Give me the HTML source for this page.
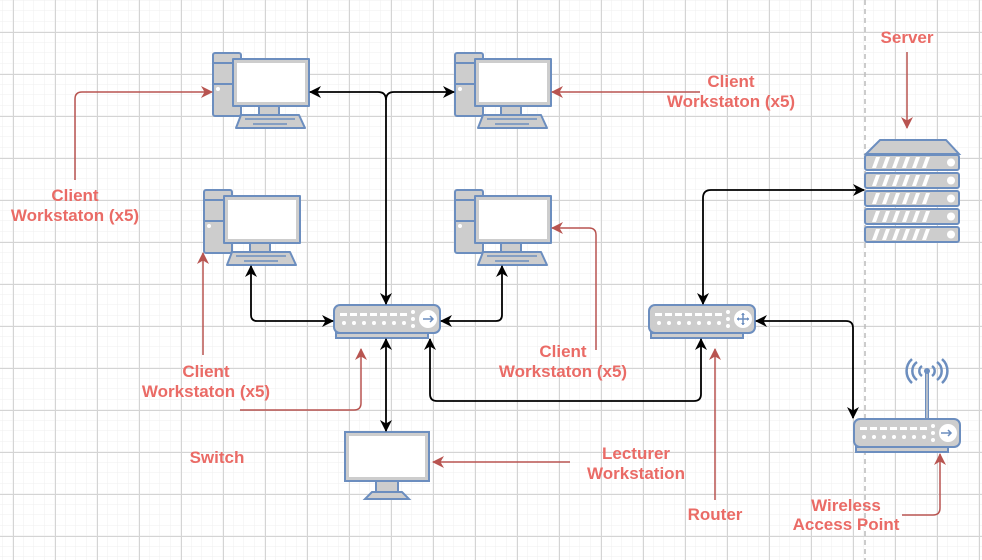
<!DOCTYPE html>
<html><head><meta charset="utf-8"><style>
html,body{margin:0;padding:0;background:#fff;}
svg{display:block;}
text{font-family:"Liberation Sans",sans-serif;font-weight:bold;font-size:17px;fill:#ea6b66;text-anchor:middle;}
</style></head><body>
<svg width="982" height="560" viewBox="0 0 982 560" xmlns="http://www.w3.org/2000/svg">
<defs>
<pattern id="minor" x="2.5" y="0.5" width="10.5" height="10.5" patternUnits="userSpaceOnUse">
<path d="M10.5 0V10.5M0 10.5H10.5" stroke="#efefef" stroke-width="1" fill="none"/>
</pattern>
<pattern id="major" x="13" y="32" width="42" height="42" patternUnits="userSpaceOnUse">
<path d="M0.5 0V42M0 0.5H42" stroke="#d4d4d4" stroke-width="1" fill="none"/>
</pattern>
<marker id="ab" markerWidth="12" markerHeight="12" refX="11" refY="6" orient="auto-start-reverse" markerUnits="userSpaceOnUse">
<path d="M0,0 L12,6 L0,12 L3.5,6 Z" fill="#000"/>
</marker>
<marker id="ar" markerWidth="12" markerHeight="12" refX="11" refY="6" orient="auto-start-reverse" markerUnits="userSpaceOnUse">
<path d="M0,0 L12,6 L0,12 L3.5,6 Z" fill="#b85450"/>
</marker>
<g id="pc" stroke="#6c8ebf" stroke-width="2" stroke-linejoin="round">
<rect x="0" y="0" width="28" height="63" rx="2" fill="#cdcdcd"/>
<line x1="0" y1="10" x2="28" y2="10"/><line x1="0" y1="31" x2="28" y2="31"/>
<circle cx="5" cy="36" r="2" fill="#fff" stroke="none"/>
<rect x="46" y="52" width="20" height="10" fill="#cdcdcd"/>
<path d="M28 62 L86 62 L92 75 L23 75 Z" fill="#cdcdcd"/>
<path d="M32 66h50M40 71h34" stroke-width="1.5"/>
<rect x="20" y="6" width="76" height="47" fill="#cdcdcd"/>
<rect x="24" y="10" width="68" height="39" fill="#fff" stroke="none"/>
</g>
<g id="sw">
<rect x="2" y="28" width="92" height="5" fill="#cdcdcd" stroke="#6c8ebf" stroke-width="2"/>
<rect x="0" y="0" width="106" height="28" rx="6" fill="#cdcdcd" stroke="#6c8ebf" stroke-width="2"/>
<g fill="#fff">
<rect x="6" y="8" width="7" height="3"/><rect x="16" y="8" width="7" height="3"/><rect x="26" y="8" width="7" height="3"/><rect x="36" y="8" width="7" height="3"/><rect x="46" y="8" width="7" height="3"/><rect x="56" y="8" width="7" height="3"/><rect x="66" y="8" width="7" height="3"/>
<circle cx="10" cy="18" r="2"/><circle cx="20" cy="18" r="2"/><circle cx="30" cy="18" r="2"/><circle cx="40" cy="18" r="2"/><circle cx="50" cy="18" r="2"/><circle cx="60" cy="18" r="2"/><circle cx="70" cy="18" r="2"/>
<circle cx="79" cy="7" r="2"/><circle cx="79" cy="14" r="2"/><circle cx="79" cy="21" r="2"/>
<circle cx="94" cy="14" r="9"/>
</g>
</g>
</defs>
<rect width="982" height="560" fill="url(#minor)"/>
<rect width="982" height="560" fill="url(#major)"/>
<line x1="865" y1="0" x2="865" y2="560" stroke="#bbb" stroke-dasharray="5,4" stroke-width="1.5"/>

<use href="#pc" x="213" y="53"/>
<use href="#pc" x="455" y="53"/>
<use href="#pc" x="204" y="190"/>
<use href="#pc" x="455" y="190"/>

<use href="#sw" x="334" y="305"/>
<path d="M423 319h10m-3-3l3 3-3 3" stroke="#6c8ebf" stroke-width="1.5" fill="none"/>
<use href="#sw" x="649" y="305"/>
<path d="M737 319h12M743 313v12" stroke="#6c8ebf" stroke-width="1.5"/>
<path d="M737 319l2-2v4zM749 319l-2-2v4zM743 313l-2 2h4zM743 325l-2-2h4z" fill="#6c8ebf"/>

<!-- wireless -->
<line x1="927" y1="372" x2="927" y2="419" stroke="#6c8ebf" stroke-width="4"/>
<line x1="927" y1="372" x2="927" y2="419" stroke="#cdcdcd" stroke-width="1.5"/>
<g fill="none" stroke="#6c8ebf" stroke-width="2.5">
<path d="M922 366a6 6 0 0 0 0 10M932 366a6 6 0 0 1 0 10"/>
<path d="M917 362a11 11 0 0 0 0 18M937 362a11 11 0 0 1 0 18"/>
<path d="M912 359a16 16 0 0 0 0 24M942 359a16 16 0 0 1 0 24"/>
</g>
<circle cx="927" cy="371" r="3" fill="#6c8ebf"/>
<use href="#sw" x="854" y="419"/>
<path d="M941 433h10m-3-3l3 3-3 3" stroke="#6c8ebf" stroke-width="1.5" fill="none"/>

<!-- server -->
<g stroke="#6c8ebf" stroke-width="2" fill="#cdcdcd">
<path d="M866 154 L880 140 L946 140 L959 154 Z"/>
<rect x="865" y="155" width="94" height="15" rx="2"/>
<rect x="865" y="173" width="94" height="15" rx="2"/>
<rect x="865" y="191" width="94" height="15" rx="2"/>
<rect x="865" y="209" width="94" height="15" rx="2"/>
<rect x="865" y="227" width="94" height="15" rx="2"/>
</g>
<g fill="#fff">
<g id="srow"><path d="M872 168l4-11h4l-4 11zM882 168l4-11h4l-4 11zM892 168l4-11h4l-4 11zM902 168l4-11h4l-4 11zM912 168l4-11h4l-4 11zM922 168l4-11h4l-4 11z"/><circle cx="951" cy="162.5" r="4"/></g>
<use href="#srow" y="18"/><use href="#srow" y="36"/><use href="#srow" y="54"/><use href="#srow" y="72"/>
</g>

<!-- lecturer monitor -->
<g stroke="#6c8ebf" stroke-width="2">
<rect x="376" y="480" width="22" height="12" fill="#cdcdcd"/>
<path d="M372 492h30l7 7h-44z" fill="#cdcdcd"/>
<rect x="345" y="432" width="84" height="49" fill="#cdcdcd"/>
<rect x="349" y="436" width="76" height="41" fill="#fff" stroke="none"/>
</g>

<!-- black connectors -->
<g stroke="#000" stroke-width="1.8" fill="none">
<path d="M386 304 V100 Q386 92 378 92 H310" marker-start="url(#ab)" marker-end="url(#ab)"/>
<path d="M386 100 Q386 92 394 92 H454" marker-end="url(#ab)"/>
<path d="M251 266 V315 Q251 321 257 321 H333" marker-start="url(#ab)" marker-end="url(#ab)"/>
<path d="M502 266 V315 Q502 321 496 321 H441" marker-start="url(#ab)" marker-end="url(#ab)"/>
<path d="M386 339 V431" marker-start="url(#ab)" marker-end="url(#ab)"/>
<path d="M430 339 V394 Q430 401 437 401 H694 Q701 401 701 394 V339" marker-start="url(#ab)" marker-end="url(#ab)"/>
<path d="M703 304 V198 Q703 190 711 190 H864" marker-start="url(#ab)" marker-end="url(#ab)"/>
<path d="M756 321 H846 Q853 321 853 328 V418" marker-start="url(#ab)" marker-end="url(#ab)"/>
</g>

<!-- red connectors -->
<g stroke="#b85450" stroke-width="1.5" fill="none">
<path d="M75 180 V99 Q75 92 82 92 H212" marker-end="url(#ar)"/>
<path d="M700 92 H552" marker-end="url(#ar)"/>
<path d="M203 355 V253" marker-end="url(#ar)"/>
<path d="M596 350 V235 Q596 228 589 228 H552" marker-end="url(#ar)"/>
<path d="M240 410 H354 Q361 410 361 403 V349" marker-end="url(#ar)"/>
<path d="M570 462 H433" marker-end="url(#ar)"/>
<path d="M715 500 V349" marker-end="url(#ar)"/>
<path d="M907 52 V128" marker-end="url(#ar)"/>
<path d="M902 515 H933 Q940 515 940 508 V454" marker-end="url(#ar)"/>
</g>

<text x="75" y="201">Client</text><text x="75" y="221">Workstaton (x5)</text>
<text x="731" y="87">Client</text><text x="731" y="107">Workstaton (x5)</text>
<text x="206" y="377">Client</text><text x="206" y="397">Workstaton (x5)</text>
<text x="563" y="357">Client</text><text x="563" y="377">Workstaton (x5)</text>
<text x="217" y="463">Switch</text>
<text x="636" y="459">Lecturer</text><text x="636" y="479">Workstation</text>
<text x="715" y="520">Router</text>
<text x="907" y="43">Server</text>
<text x="846" y="511">Wireless</text><text x="846" y="530">Access Point</text>
</svg>
</body></html>
